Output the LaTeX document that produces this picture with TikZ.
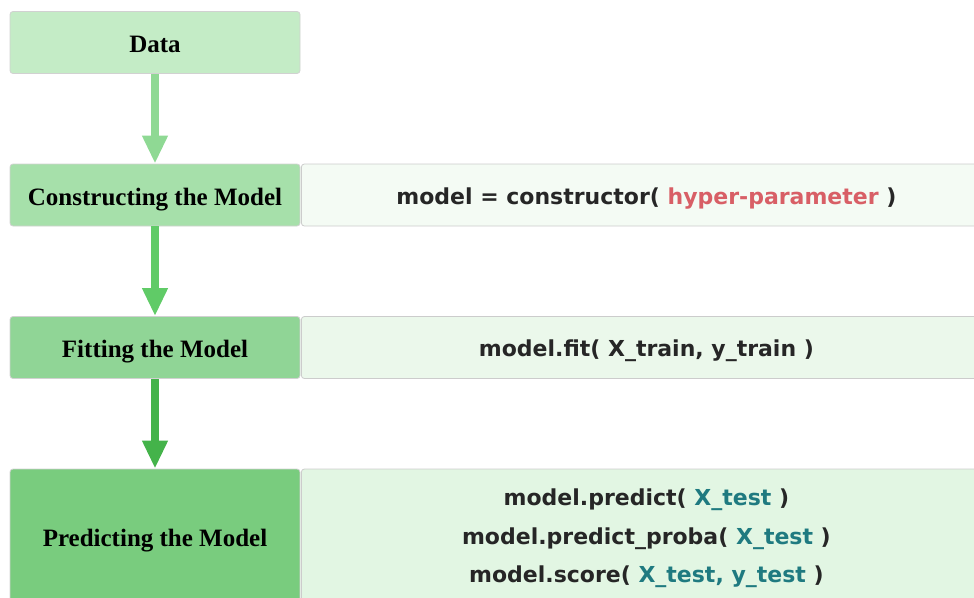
\documentclass[tikz,border=0pt]{standalone}
\usepackage{fontspec}
\setmainfont{Liberation Serif}
\newfontfamily\codefont{DejaVu Sans}
\usetikzlibrary{arrows.meta,positioning}

\definecolor{dataFill}{HTML}{C4ECC6}
\definecolor{consFill}{HTML}{A6E0AA}
\definecolor{fitFill}{HTML}{90D596}
\definecolor{predFill}{HTML}{79CC7E}
\definecolor{arrowA}{HTML}{8FD994}
\definecolor{arrowB}{HTML}{60CB67}
\definecolor{arrowC}{HTML}{44B34A}
\definecolor{panelA}{HTML}{F4FBF4}
\definecolor{panelB}{HTML}{EBF8EB}
\definecolor{panelC}{HTML}{E2F6E3}
\definecolor{codeInk}{HTML}{262626}
\definecolor{hyperRed}{HTML}{D85F66}
\definecolor{argTeal}{HTML}{1F7A80}

\newcommand{\hyp}[1]{\textcolor{hyperRed}{#1}}
\newcommand{\targ}[1]{\textcolor{argTeal}{#1}}

\begin{document}
\begin{tikzpicture}[x=1pt, y=-1pt,
		stage/.style={draw=black!18, line width=0.8pt, rounded corners=3pt, minimum width=290pt, minimum height=62pt, inner sep=0pt, text height=20pt, text depth=0pt, font=\fontsize{25}{30}\selectfont\bfseries},
		panel/.style={draw=black!20, line width=0.8pt, rounded corners=3pt, minimum width=690pt, minimum height=62pt, inner sep=0pt, anchor=west, text=codeInk, font=\codefont\bfseries\fontsize{22}{38.5}\selectfont, align=center},
		flow/.style={line width=8pt, -{Triangle[width=24pt, length=28pt]}}]
		\clip (0,0) rectangle (974,597);
		\useasboundingbox (0,0) rectangle (974,597);
		
		\node[stage, fill=dataFill] (data) at (155,42.5) {Data};
		\node[stage, fill=consFill] (cons) at (155,195) {Constructing the Model};
		\node[stage, fill=fitFill] (fit) at (155,347.5) {Fitting the Model};
		\node[stage, fill=predFill, minimum height=134pt] (pred) at (155,536) {Predicting the Model};
		
		\node[panel, fill=panelA, text height=18pt, text depth=0pt] (consCode) at (301,195) {model = constructor( \hyp{hyper-parameter} )};
		\node[panel, fill=panelB, text height=18pt, text depth=0pt] (fitCode) at (301,347.5) {model.fit( X\_train, y\_train )};
		\node[panel, fill=panelC, minimum height=134pt, text depth=0pt] (predCode) at (301,536) {model.predict( \targ{X\_test} )\\ model.predict\_proba( \targ{X\_test} )\\ model.score( \targ{X\_test, y\_test} )};
		
		\draw[flow, arrowA] (data.south) -- (cons.north);
		\draw[flow, arrowB] (cons.south) -- (fit.north);
		\draw[flow, arrowC] (fit.south) -- (pred.north);
	\end{tikzpicture}
\end{document}
